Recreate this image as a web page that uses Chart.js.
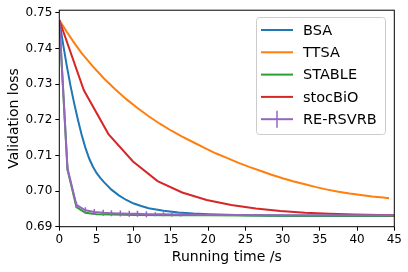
<!DOCTYPE html>
<html>
<head>
<meta charset="utf-8">
<script src="https://cdn.jsdelivr.net/npm/chart.js@4.4.1/dist/chart.umd.min.js"></script>
<style>
  html, body { margin: 0; padding: 0; background: #fff; }
  #wrap { width: 408px; height: 272px; }
</style>
</head>
<body>
<div id="wrap"><canvas id="grafico"></canvas></div>
<script>
// data
const nomes = ["BSA", "TTSA", "STABLE", "stocBiO", "RE-RSVRB"];
const cores = ["#1f77b4", "#ff7f0e", "#2ca02c", "#d62728", "#9467bd"];

const bsaTempo = [0, 0.5, 1, 1.5, 2, 2.5, 3, 3.5, 4, 4.5, 5, 5.5, 6, 7, 8, 9, 10, 11, 12, 14, 16, 18, 20, 25, 30, 35, 45];
const bsaPerda = [0.748, 0.7414, 0.7352, 0.7296, 0.7246, 0.7200, 0.7158, 0.7122, 0.7092, 0.7069, 0.7051, 0.7037, 0.7025, 0.7004, 0.6988, 0.6975, 0.6965, 0.6958, 0.6952, 0.6945, 0.6940, 0.6937, 0.6935, 0.6932, 0.6931, 0.6930, 0.6930];

const ttsaTempo = [0, 1, 2, 3, 4.5, 6, 7.5, 9, 10.5, 12, 13.5, 15, 16.5, 18, 19.5, 21, 22.5, 24, 25.5, 27, 28.5, 30, 31.5, 33, 34.5, 36, 37.5, 39, 40.5, 42, 43.5, 44.3];
const ttsaPerda = [0.748, 0.7447, 0.7416, 0.7387, 0.7350, 0.7316, 0.7286, 0.7258, 0.7233, 0.7210, 0.7189, 0.7170, 0.7153, 0.7137, 0.7121, 0.7106, 0.7093, 0.7080, 0.7068, 0.7057, 0.7046, 0.7036, 0.7027, 0.7019, 0.7011, 0.7004, 0.6998, 0.6993, 0.6989, 0.6985, 0.6982, 0.6980];

const stableTempo = [0, 1.1, 2.3, 3.5, 5, 7, 10, 15, 20, 30, 45];
const stablePerda = [0.748, 0.7060, 0.6955, 0.6939, 0.6935, 0.6934, 0.6933, 0.6932, 0.6932, 0.6931, 0.6931];

const stocTempo = [0, 3.3, 6.6, 9.9, 13.2, 16.5, 19.8, 23.1, 26.4, 29.7, 33, 36.3, 39.6, 42.9, 45];
const stocPerda = [0.748, 0.7283, 0.7160, 0.7083, 0.7028, 0.6996, 0.6975, 0.6961, 0.6951, 0.6944, 0.6939, 0.6936, 0.6934, 0.6933, 0.6932];

const reTempo = [0, 1.1, 2.3, 3.5, 4.7, 5.9, 7.0, 8.2, 9.4, 10.5, 11.7, 12.9, 14.0, 15.1, 16.3, 20, 25, 30, 35, 40, 45];
const rePerda = [0.748, 0.7064, 0.6961, 0.6946, 0.6941, 0.6939, 0.6938, 0.6937, 0.6936, 0.6936, 0.6935, 0.6935, 0.6935, 0.6934, 0.6934, 0.6933, 0.6933, 0.6932, 0.6932, 0.6932, 0.6932];

const xTicks = [0, 5, 10, 15, 20, 25, 30, 35, 40, 45];
const yTicks = [0.69, 0.70, 0.71, 0.72, 0.73, 0.74, 0.75];

const fonte = "'DejaVu Sans', sans-serif";

function pares(tempo, perda) {
    return tempo.map((t, i) => ({ x: t, y: perda[i] }));
}

const series = [
    pares(bsaTempo, bsaPerda),
    pares(ttsaTempo, ttsaPerda),
    pares(stableTempo, stablePerda),
    pares(stocTempo, stocPerda),
    pares(reTempo, rePerda)
];

const datasets = series.map((dados, i) => ({
    label: nomes[i],
    data: dados,
    borderColor: cores[i],
    backgroundColor: cores[i],
    borderWidth: 2,
    pointRadius: 0,
    tension: 0,
    order: 4 - i
}));

// errorbars of RE-RSVRB drawn as small vertical ticks
datasets[4].pointStyle = "line";
datasets[4].rotation = 90;
datasets[4].pointBorderWidth = 1.5;
datasets[4].pointRadius = ctx => {
    const p = ctx.raw;
    if (!p || p.x === 0) return 0;
    if (p.x < 12) return 3;
    if (p.x < 17) return 2;
    return 0;
};

const legendaPlugin = {
    id: "legenda",
    afterDraw(chart) {
        const ctx = chart.ctx;
        const a = chart.chartArea;
        ctx.save();
        // full box like matplotlib spines
        ctx.strokeStyle = "#000";
        ctx.lineWidth = 1;
        ctx.strokeRect(a.left, a.top, a.right - a.left, a.bottom - a.top);

        const x0 = 256.5, y0 = 17.5, w = 129, h = 117;
        ctx.fillStyle = "rgba(255,255,255,0.8)";
        ctx.strokeStyle = "#cccccc";
        ctx.beginPath();
        ctx.roundRect(x0, y0, w, h, 3);
        ctx.fill();
        ctx.stroke();

        ctx.font = "14.5px " + fonte;
        ctx.textBaseline = "middle";
        ctx.textAlign = "left";
        nomes.forEach((nome, i) => {
            const y = 30 + i * 22.3;
            ctx.strokeStyle = cores[i];
            ctx.lineWidth = 2;
            ctx.beginPath();
            ctx.moveTo(261, y);
            ctx.lineTo(293, y);
            ctx.stroke();
            if (i === 4) {
                ctx.lineWidth = 1.5;
                ctx.beginPath();
                ctx.moveTo(277, y - 8.5);
                ctx.lineTo(277, y + 8.5);
                ctx.stroke();
            }
            ctx.fillStyle = "#000";
            ctx.fillText(nome, 303, y + 1);
        });
        ctx.restore();
    }
};

new Chart(document.getElementById("grafico"), {
    type: "line",
    data: { datasets: datasets },
    options: {
        responsive: true,
        maintainAspectRatio: false,
        animation: false,
        layout: { padding: { top: 10, right: 13.7, left: 0, bottom: 0 } },
        plugins: {
            legend: { display: false },
            tooltip: { enabled: false }
        },
        scales: {
            x: {
                type: "linear",
                min: 0,
                max: 45,
                afterFit: s => { s.height = 45.3; },
                afterBuildTicks: s => { s.ticks = xTicks.map(v => ({ value: v })); },
                ticks: {
                    color: "#000",
                    font: { family: fonte, size: 12 },
                    padding: 2,
                    maxRotation: 0,
                    callback: v => String(v)
                },
                grid: {
                    display: true,
                    drawOnChartArea: false,
                    tickLength: 4,
                    color: "#000"
                },
                border: { display: false },
                title: {
                    display: true,
                    text: "Running time /s",
                    color: "#000",
                    font: { family: fonte, size: 14 },
                    padding: { top: 0, bottom: 6 }
                }
            },
            y: {
                type: "linear",
                min: 0.69,
                max: 0.75076,
                afterFit: s => { s.width = 59.3; },
                afterBuildTicks: s => { s.ticks = yTicks.map(v => ({ value: v })); },
                ticks: {
                    color: "#000",
                    font: { family: fonte, size: 12 },
                    padding: 3,
                    callback: v => v.toFixed(2)
                },
                grid: {
                    display: true,
                    drawOnChartArea: false,
                    tickLength: 4,
                    color: "#000"
                },
                border: { display: false },
                title: {
                    display: true,
                    text: "Validation loss",
                    color: "#000",
                    font: { family: fonte, size: 14 },
                    padding: { top: 5.6, bottom: 0 }
                }
            }
        }
    },
    plugins: [legendaPlugin]
});
</script>
</body>
</html>
